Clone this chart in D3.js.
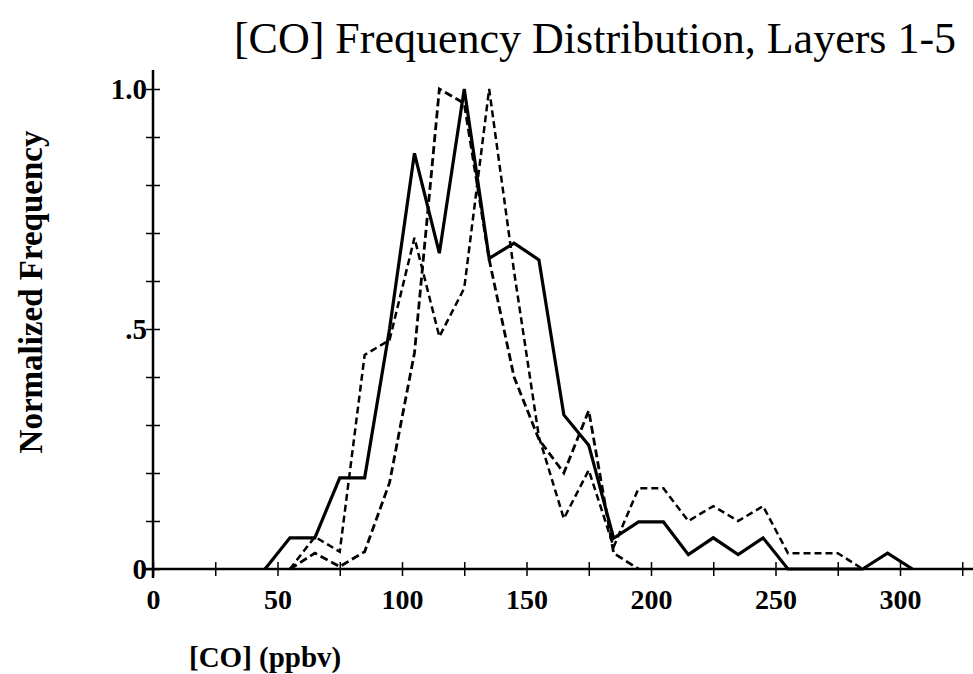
<!DOCTYPE html>
<html>
<head>
<meta charset="utf-8">
<script src="https://cdn.jsdelivr.net/npm/d3@7"></script>
<style>
  html, body { margin: 0; padding: 0; background: #fff; }
  svg { display: block; }
</style>
</head>
<body>
<svg id="chart" width="973" height="674"></svg>
<script>
// ---- data ----
const coBins = [45, 55, 65, 75, 85, 95, 105, 115, 125, 135, 145, 155, 165, 175, 185, 195, 205, 215, 225, 235, 245, 255, 265, 275, 285, 295, 305];
const solidSeries = [0, 0.065, 0.065, 0.19, 0.19, 0.5, 0.866, 0.658, 1.0, 0.647, 0.679, 0.644, 0.321, 0.258, 0.064, 0.098, 0.098, 0.03, 0.065, 0.03, 0.065, 0, 0, 0, 0, 0.033, 0];
const dashedPeak135 = [null, 0, 0.067, 0.036, 0.446, 0.477, 0.69, 0.484, 0.585, 1.0, 0.62, 0.275, 0.105, 0.206, 0.046, 0.168, 0.168, 0.1, 0.131, 0.1, 0.131, 0.033, 0.033, 0.033, 0, null, null];
const dashedPeak115 = [null, 0, 0.033, 0.005, 0.036, 0.18, 0.45, 1.0, 0.97, 0.645, 0.40, 0.27, 0.2, 0.33, 0.033, 0, null, null, null, null, null, null, null, null, null, null, null];
const xTickValues = [0, 25, 50, 75, 100, 125, 150, 175, 200, 225, 250, 275, 300, 325];
const xTickLabels = {0: "0", 50: "50", 100: "100", 150: "150", 200: "200", 250: "250", 300: "300"};
const yTickValues = [0, 0.1, 0.2, 0.3, 0.4, 0.5, 0.6, 0.7, 0.8, 0.9, 1.0];
const yTickLabels = {0: "0", 0.5: ".5", 1: "1.0"};
const titleText = "[CO] Frequency Distribution, Layers 1-5";
const xLabel = "[CO] (ppbv)";
const yLabel = "Normalized Frequency";

// ---- drawing ----
const svg = d3.select("#chart");
const serif = "'Liberation Serif', 'DejaVu Serif', serif";

const x = d3.scaleLinear().domain([0, 330]).range([153, 153 + 330 * 2.49]);
const y = d3.scaleLinear().domain([0, 1]).range([569, 89]);

// x axis
const xAxis = d3.axisBottom(x)
  .tickValues(xTickValues)
  .tickFormat(d => xTickLabels[d] || "")
  .tickSizeInner(7)
  .tickSizeOuter(0)
  .tickPadding(13);
const gx = svg.append("g").attr("transform", `translate(0,${y(0)})`).call(xAxis);
gx.select(".domain").attr("stroke", "#000").attr("stroke-width", 2.5)
  .attr("d", `M${x(0) - 8},0H973`);
gx.selectAll(".tick line").attr("y1", -7).attr("y2", 7).attr("stroke", "#000").attr("stroke-width", 1.5);
gx.selectAll(".tick text")
  .attr("font-family", serif).attr("font-weight", "bold").attr("font-size", 28).attr("fill", "#000");

// y axis
const yAxis = d3.axisLeft(y)
  .tickValues(yTickValues)
  .tickFormat(d => yTickLabels[Math.round(d * 10) / 10] || "")
  .tickSizeInner(7)
  .tickSizeOuter(0)
  .tickPadding(2);
const gy = svg.append("g").attr("transform", `translate(${x(0)},0)`).call(yAxis);
gy.select(".domain").attr("stroke", "#000").attr("stroke-width", 2.5)
  .attr("d", `M0,70V${y(0) + 9}`);
gy.selectAll(".tick line").attr("x1", -7).attr("x2", 7).attr("stroke", "#000").attr("stroke-width", 1.5);
gy.selectAll(".tick text")
  .attr("font-family", serif).attr("font-weight", "bold").attr("font-size", 29).attr("fill", "#000")
  .attr("x", -6).attr("dy", "0.34em");

// lines
function drawLine(values, opts) {
  const pts = coBins.map((c, i) => ({c, v: values[i]}));
  const line = d3.line()
    .defined(d => d.v !== null && d.v !== undefined)
    .x(d => x(d.c)).y(d => y(d.v));
  svg.append("path").datum(pts)
    .attr("d", line)
    .attr("fill", "none")
    .attr("stroke", "#000")
    .attr("stroke-width", opts.width)
    .attr("stroke-dasharray", opts.dash || null)
    .attr("stroke-linejoin", "miter");
}
drawLine(dashedPeak135, {width: 2.5, dash: "7,4"});
drawLine(dashedPeak115, {width: 2.8, dash: "8,4"});
drawLine(solidSeries, {width: 3.2});

// title
svg.append("text").attr("x", 595).attr("y", 53)
  .attr("text-anchor", "middle")
  .attr("font-family", serif).attr("font-size", 44).attr("fill", "#000")
  .text(titleText);

// x label
svg.append("text").attr("x", 189).attr("y", 667)
  .attr("font-family", serif).attr("font-weight", "bold").attr("font-size", 29).attr("fill", "#000")
  .text(xLabel);

// y label
svg.append("text")
  .attr("transform", "translate(42,292) rotate(-90)")
  .attr("text-anchor", "middle")
  .attr("font-family", serif).attr("font-weight", "bold").attr("font-size", 33).attr("fill", "#000")
  .text(yLabel);
</script>
</body>
</html>
